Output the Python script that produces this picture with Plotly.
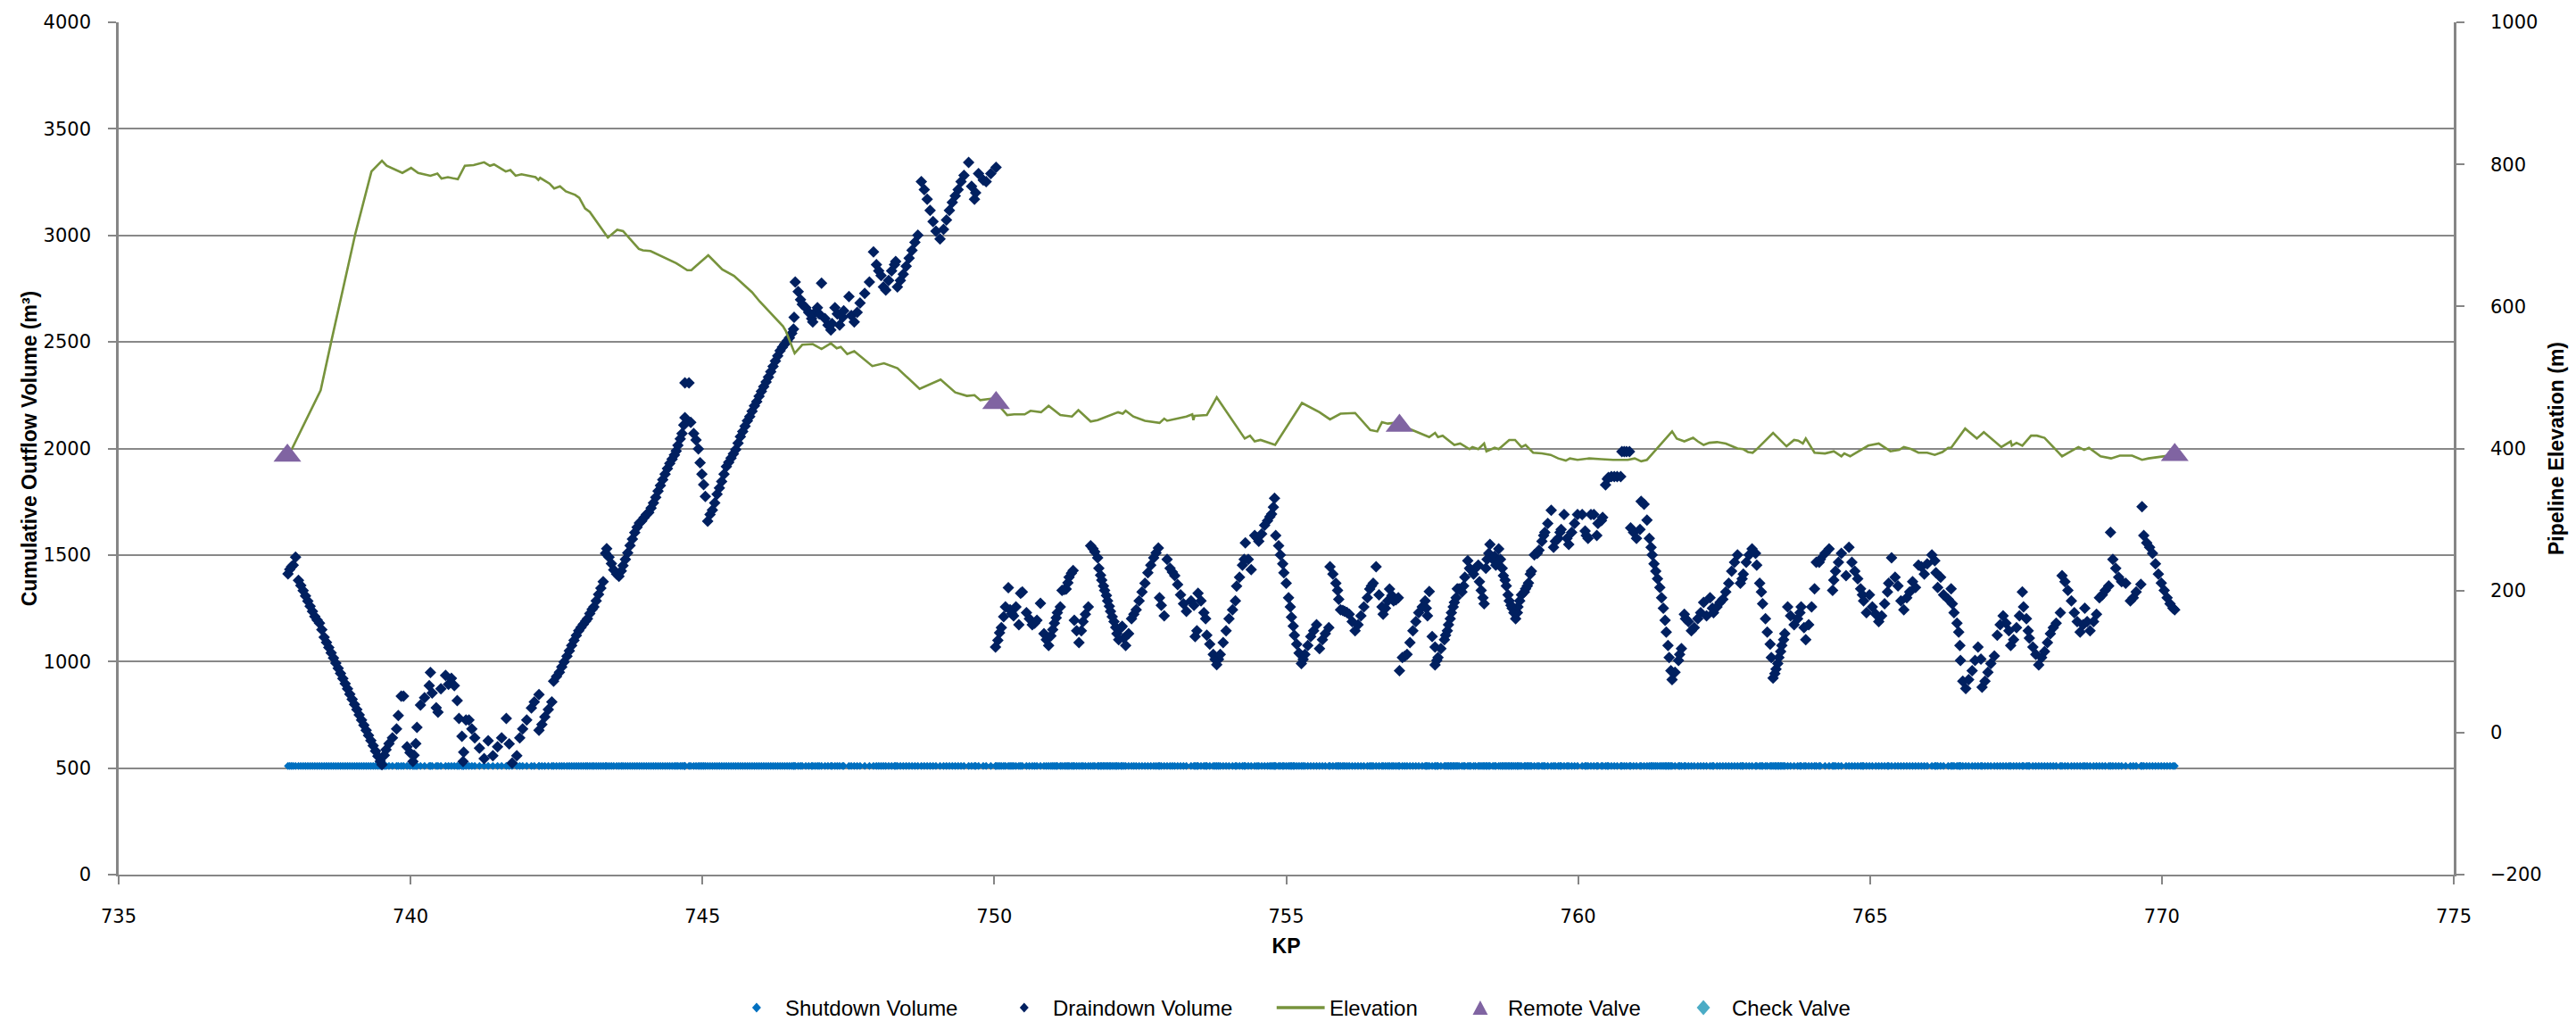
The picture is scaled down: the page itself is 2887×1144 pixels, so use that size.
import plotly.graph_objects as go

# ---- Draindown volume (m3) vs KP, section upstream of the KP 750 valve ----
drain_kp_a = [
    737.90, 737.93, 737.96, 737.99, 738.03,
    738.08, 738.12, 738.16, 738.20, 738.24, 738.28, 738.32, 738.36, 738.40, 738.44,
    738.48, 738.52, 738.56, 738.60, 738.64, 738.68, 738.72, 738.76, 738.80, 738.84,
    738.88, 738.92, 738.96, 739.00, 739.04, 739.08, 739.12, 739.16, 739.20, 739.24,
    739.28, 739.32, 739.36, 739.40, 739.44, 739.48, 739.51,
    739.55, 739.58, 739.63, 739.69, 739.76, 739.79, 739.84, 739.88, 739.94, 739.99,
    740.04, 740.06, 740.09, 740.11, 740.17, 740.24, 740.32, 740.34, 740.37, 740.44,
    740.47, 740.52, 740.60, 740.65, 740.70, 740.75, 740.80, 740.83, 740.88, 740.90,
    740.91, 740.95, 741.00, 741.05, 741.10, 741.18, 741.26, 741.33, 741.41, 741.49,
    741.56, 741.64, 741.69, 741.74, 741.82, 741.87, 741.92, 741.99, 742.07, 742.12,
    742.20, 742.20, 742.25, 742.30, 742.36, 742.42, 742.45, 742.50, 742.55, 742.59,
    742.63, 742.68, 742.72, 742.76, 742.80, 742.84, 742.88, 742.92, 742.96, 743.00,
    743.03, 743.07, 743.11, 743.14, 743.18, 743.22, 743.26, 743.30, 743.34, 743.36,
    743.40, 743.44, 743.48, 743.53, 743.57, 743.61, 743.64, 743.68, 743.72, 743.76,
    743.80, 743.84, 743.88, 743.92, 743.96, 744.00, 744.04, 744.08, 744.12, 744.16,
    744.20, 744.24, 744.28, 744.32, 744.36, 744.40, 744.44, 744.48, 744.52, 744.55,
    744.58, 744.62, 744.65, 744.68, 744.70, 744.70, 744.77, 744.80, 744.85, 744.89,
    744.93, 744.96, 744.99, 745.02, 745.05, 745.09, 745.13, 745.17, 745.21, 745.25,
    745.29, 745.33, 745.37, 745.41, 745.45, 745.49, 745.53, 745.57, 745.61, 745.65,
    745.69, 745.73, 745.77, 745.81, 745.85, 745.89, 745.93, 745.97, 746.01, 746.05,
    746.09, 746.13, 746.17, 746.21, 746.25, 746.29, 746.33, 746.37, 746.41, 746.45,
    746.49, 746.53, 746.56, 746.57, 746.59, 746.64, 746.68, 746.71, 746.77, 746.82,
    746.87, 746.89, 746.93, 746.97, 747.00, 747.04, 747.10, 747.15, 747.20, 747.22,
    747.27, 747.31, 747.35, 747.40, 747.42, 747.51, 747.55, 747.60, 747.65, 747.70,
    747.78, 747.86, 747.93, 747.98, 748.02, 748.06, 748.10, 748.14, 748.19, 748.24,
    748.29, 748.31, 748.34, 748.39, 748.44, 748.49, 748.54, 748.59, 748.64, 748.69,
    748.75, 748.80, 748.85, 748.90, 748.95, 749.00, 749.07, 749.13, 749.18, 749.23,
    749.28, 749.33, 749.38, 749.43, 749.48, 749.56, 749.61, 749.66, 749.68, 749.73,
    749.81, 749.86, 749.94, 750.03,
]
drain_m3_a = [
    1412, 1432, 1445, 1452, 1490,
    1381, 1357, 1333, 1308, 1284, 1260, 1236, 1211, 1195, 1180,
    1150, 1114, 1090, 1066, 1041, 1017, 993, 969, 944, 920,
    896, 872, 847, 823, 799, 775, 750, 726, 702, 678,
    653, 629, 605, 580, 556, 532, 516,
    560, 586, 615, 642, 684, 747, 838, 838, 600, 573,
    531, 560, 615, 691, 796, 830, 887, 949, 852, 783,
    762, 872, 935, 893, 921, 887, 817, 733, 649, 531,
    575, 726, 726, 684, 642, 594, 545, 628, 558, 600,
    642, 733, 614, 524, 558, 642, 684, 726, 782, 810,
    845, 677, 705, 740, 775, 810, 908, 930, 950, 975,
    998, 1025, 1050, 1075, 1100, 1122, 1145, 1160, 1175, 1190,
    1201, 1225, 1245, 1257, 1285, 1315, 1345, 1375, 1508, 1530,
    1490, 1460, 1430, 1410, 1400, 1425, 1450, 1480, 1510, 1545,
    1575, 1605, 1630, 1650, 1660, 1675, 1690, 1700, 1720, 1745,
    1771, 1800, 1826, 1853, 1880, 1906, 1930, 1950, 1970, 1988,
    2015, 2045, 2070, 2110, 2145, 2308, 2308, 2123, 2070, 2040,
    1998, 1933, 1880, 1830, 1775, 1659, 1690, 1711, 1745, 1785,
    1815, 1845, 1880, 1915, 1935, 1955, 1975, 1995, 2025, 2055,
    2080, 2105, 2130, 2150, 2175, 2200, 2220, 2245, 2268, 2290,
    2312, 2335, 2360, 2385, 2410, 2435, 2459, 2475, 2490, 2505,
    2519, 2540, 2560, 2616, 2781, 2736, 2698, 2676, 2661, 2639,
    2609, 2594, 2639, 2661, 2631, 2776, 2609, 2579, 2556, 2586,
    2661, 2631, 2579, 2616, 2646, 2713, 2624, 2594, 2639, 2683,
    2728, 2781, 2923, 2863, 2833, 2811, 2758, 2743, 2788, 2833,
    2863, 2878, 2758, 2788, 2818, 2855, 2893, 2930, 2968, 3001,
    3252, 3215, 3170, 3117, 3065, 3020, 2983, 3028, 3072, 3117,
    3155, 3185, 3215, 3252, 3282, 3342, 3230, 3170, 3200, 3290,
    3260, 3252, 3290, 3319,
]

# ---- Draindown volume (m3), section downstream of the KP 750 valve ----
drain_kp_b = [
    750.02, 750.06, 750.09, 750.12, 750.16, 750.19, 750.24, 750.27, 750.30, 750.33,
    750.37, 750.42, 750.45, 750.48, 750.55, 750.60, 750.65, 750.69, 750.73, 750.79,
    750.85, 750.89, 750.93, 750.97, 751.00, 751.03, 751.06, 751.08, 751.13, 751.16,
    751.20, 751.23, 751.26, 751.28, 751.32, 751.35, 751.37, 751.41, 751.45, 751.49,
    751.52, 751.56, 751.61, 751.65, 751.69, 751.72, 751.77, 751.79, 751.82, 751.84,
    751.87, 751.89, 751.92, 751.94, 751.97, 751.99, 752.02, 752.05, 752.08, 752.10,
    752.13, 752.17, 752.19, 752.22, 752.25, 752.30, 752.35, 752.39, 752.43, 752.48,
    752.53, 752.58, 752.63, 752.68, 752.73, 752.77, 752.81, 752.83, 752.86, 752.91,
    752.96, 753.01, 753.05, 753.09, 753.14, 753.19, 753.24, 753.29, 753.37, 753.42,
    753.44, 753.47, 753.49, 753.54, 753.59, 753.62, 753.64, 753.69, 753.75, 753.78,
    753.81, 753.84, 753.87, 753.92, 753.97, 754.02, 754.08, 754.13, 754.15, 754.20,
    754.25, 754.28, 754.30, 754.35, 754.40, 754.46, 754.50, 754.53, 754.58, 754.63,
    754.68, 754.72, 754.75, 754.78, 754.80, 754.82, 754.87, 754.90, 754.94, 754.96,
    755.00, 755.04, 755.07, 755.09, 755.12, 755.14, 755.18, 755.22, 755.26, 755.29,
    755.32, 755.37, 755.42, 755.47, 755.52, 755.57, 755.62, 755.67, 755.73, 755.75,
    755.80, 755.85, 755.88, 755.90, 755.93, 755.97, 756.00, 756.04, 756.08, 756.13,
    756.18, 756.23, 756.28, 756.33, 756.39, 756.43, 756.46, 756.49, 756.54, 756.59,
    756.64, 756.66, 756.70, 756.74, 756.77, 756.81, 756.84, 756.88, 756.92, 756.94,
    756.99, 757.03, 757.07, 757.12, 757.17, 757.22, 757.27, 757.33, 757.38, 757.40,
    757.42, 757.45, 757.50, 757.55, 757.55, 757.58, 757.60, 757.65, 757.71, 757.73,
    757.76, 757.78, 757.81, 757.83, 757.86, 757.88, 757.91, 757.93, 757.96, 758.01,
    758.04, 758.06, 758.11, 758.14, 758.16, 758.21, 758.24, 758.29, 758.31, 758.34,
    758.37, 758.39, 758.42, 758.44, 758.47, 758.49, 758.54, 758.57, 758.59, 758.64,
    758.67, 758.70, 758.72, 758.75, 758.77, 758.80, 758.82, 758.85, 758.87, 758.90,
    758.93, 758.96, 758.97, 759.00, 759.03, 759.08, 759.10, 759.13, 759.15, 759.18,
    759.20, 759.25, 759.30, 759.33, 759.38, 759.41, 759.43, 759.48, 759.54, 759.58,
    759.61, 759.66, 759.69, 759.71, 759.76, 759.81, 759.84, 759.89, 759.94, 759.99,
    760.07, 760.12, 760.14, 760.17, 760.22, 760.27, 760.32, 760.34, 760.40, 760.42,
    760.47, 760.50, 760.52, 760.57, 760.62, 760.67, 760.73, 760.75, 760.79, 760.83,
    760.88, 760.90, 760.95, 761.00, 761.06, 761.08, 761.13, 761.18, 761.22, 761.25,
    761.27, 761.30, 761.33, 761.36, 761.40, 761.43, 761.46, 761.49, 761.51, 761.54,
    761.56, 761.59, 761.61, 761.66, 761.72, 761.74, 761.77, 761.82, 761.84, 761.89,
    761.94, 761.99, 762.05, 762.10, 762.15, 762.20, 762.26, 762.30, 762.32, 762.38,
    762.43, 762.48, 762.53, 762.58, 762.63, 762.68, 762.73, 762.78, 762.81, 762.83,
    762.88, 762.93, 762.98, 763.04, 763.06, 763.11, 763.14, 763.16, 763.21, 763.24,
    763.29, 763.31, 763.34, 763.37, 763.39, 763.42, 763.44, 763.47, 763.49, 763.52,
    763.54, 763.59, 763.64, 763.70, 763.76, 763.80, 763.82, 763.87, 763.90, 763.95,
    764.00, 764.05, 764.08, 764.13, 764.15, 764.23, 764.30, 764.36, 764.38, 764.41,
    764.46, 764.51, 764.59, 764.64, 764.69, 764.74, 764.79, 764.84, 764.87, 764.89,
    764.94, 764.99, 765.04, 765.10, 765.15, 765.20, 765.25, 765.30, 765.32, 765.37,
    765.43, 765.48, 765.53, 765.58, 765.63, 765.68, 765.73, 765.78, 765.83, 765.88,
    765.93, 765.98, 766.06, 766.11, 766.13, 766.16, 766.21, 766.26, 766.34, 766.39,
    766.41, 766.44, 766.49, 766.52, 766.54, 766.55, 766.59, 766.64, 766.69, 766.75,
    766.80, 766.85, 766.90, 766.92, 766.97, 767.02, 767.07, 767.13, 767.18, 767.23,
    767.28, 767.33, 767.38, 767.41, 767.46, 767.51, 767.56, 767.61, 767.63, 767.68,
    767.71, 767.73, 767.79, 767.84, 767.89, 767.94, 767.99, 768.04, 768.09, 768.14,
    768.19, 768.26, 768.29, 768.34, 768.39, 768.45, 768.50, 768.55, 768.60, 768.65,
    768.68, 768.72, 768.77, 768.83, 768.88, 768.93, 768.98, 769.03, 769.09, 769.12,
    769.16, 769.21, 769.26, 769.31, 769.38, 769.46, 769.51, 769.56, 769.64, 769.66,
    769.69, 769.74, 769.79, 769.84, 769.89, 769.94, 769.99, 770.04, 770.09, 770.14,
    770.19, 770.22,
]
drain_m3_b = [
    1068, 1100, 1135, 1159, 1210, 1257, 1347, 1243, 1225, 1215,
    1257, 1173, 1320, 1327, 1229, 1201, 1173, 1180, 1194, 1273,
    1131, 1103, 1075, 1120, 1150, 1180, 1205, 1229, 1257, 1334,
    1338, 1340, 1370, 1396, 1415, 1427, 1194, 1145, 1089, 1145,
    1187, 1222, 1257, 1543, 1530, 1515, 1487, 1438, 1405, 1382,
    1355, 1334, 1310, 1285, 1260, 1236, 1210, 1187, 1160, 1131,
    1103, 1159, 1165, 1110, 1075, 1131, 1201, 1222, 1243, 1285,
    1327, 1368, 1417, 1452, 1487, 1510, 1533, 1299, 1264, 1215,
    1480, 1438, 1420, 1403, 1361, 1313, 1271, 1236, 1285, 1264,
    1117, 1145, 1320, 1285, 1229, 1201, 1124, 1082, 1033, 1010,
    985, 1010, 1033, 1089, 1145, 1201, 1243, 1285, 1354, 1396,
    1452, 1480, 1557, 1480, 1431, 1592, 1580, 1564, 1599, 1640,
    1661, 1680, 1692, 1725, 1766, 1592, 1543, 1501, 1459, 1417,
    1368, 1299, 1257, 1208, 1166, 1124, 1082, 1040, 991, 1010,
    1033, 1075, 1117, 1145, 1173, 1061, 1103, 1131, 1159, 1445,
    1410, 1368, 1334, 1292, 1243, 1240, 1236, 1230, 1222, 1187,
    1145, 1173, 1215, 1257, 1299, 1340, 1355, 1368, 1445, 1313,
    1257, 1222, 1250, 1285, 1340, 1310, 1285, 1290, 1299, 957,
    1019, 1025, 1033, 1089, 1145, 1187, 1229, 1257, 1285, 1250,
    1215, 1329, 1117, 1068, 984, 1005, 1019, 1061, 1103, 1124,
    1145, 1173, 1201, 1229, 1257, 1278, 1299, 1341, 1341, 1327,
    1355, 1396, 1473, 1438, 1431, 1410, 1438, 1452, 1375, 1334,
    1299, 1271, 1438, 1480, 1508, 1550, 1480, 1494, 1452, 1529,
    1480, 1438, 1403, 1382, 1355, 1313, 1285, 1264, 1250, 1229,
    1201, 1229, 1257, 1285, 1313, 1327, 1341, 1355, 1369, 1410,
    1424, 1501, 1508, 1522, 1564, 1592, 1606, 1648, 1710, 1536,
    1564, 1578, 1606, 1620, 1690, 1578, 1550, 1606, 1648, 1690,
    1690, 1613, 1592, 1578, 1690, 1690, 1592, 1648, 1662, 1676,
    1829, 1857, 1864, 1868, 1868, 1868, 1868, 1985, 1985, 1985,
    1985, 1627, 1606, 1578, 1620, 1752, 1738, 1664, 1578, 1536,
    1501, 1459, 1424, 1389, 1348, 1299, 1250, 1194, 1138, 1075,
    1019, 957, 915, 950, 1005, 1033, 1061, 1222, 1201, 1187,
    1145, 1159, 1201, 1229, 1278, 1215, 1299, 1250, 1229, 1257,
    1278, 1292, 1327, 1368, 1424, 1466, 1501, 1368, 1389, 1410,
    1466, 1501, 1529, 1508, 1452, 1368, 1327, 1271, 1201, 1138,
    1082, 1019, 922, 943, 964, 991, 1019, 1047, 1075, 1103,
    1131, 1257, 1215, 1173, 1201, 1229, 1257, 1159, 1103, 1173,
    1257, 1341, 1466, 1466, 1480, 1508, 1529, 1334, 1382, 1424,
    1466, 1508, 1403, 1536, 1466, 1424, 1389, 1341, 1313, 1285,
    1229, 1313, 1257, 1222, 1187, 1215, 1271, 1327, 1368, 1487,
    1396, 1355, 1285, 1243, 1299, 1327, 1375, 1348, 1452, 1445,
    1410, 1459, 1501, 1473, 1417, 1348, 1396, 1313, 1292, 1341,
    1271, 1229, 1180, 1138, 1075, 1005, 908, 873, 915, 957,
    1005, 1068, 1012, 880, 908, 950, 991, 1026, 1124, 1173,
    1215, 1180, 1145, 1075, 1103, 1159, 1215, 1327, 1257, 1201,
    1145, 1110, 1068, 1033, 984, 1019, 1047, 1089, 1131, 1159,
    1180, 1229, 1403, 1375, 1334, 1285, 1229, 1187, 1138, 1173,
    1250, 1187, 1145, 1187, 1222, 1299, 1313, 1334, 1355, 1606,
    1480, 1438, 1396, 1375, 1368, 1285, 1299, 1327, 1362, 1727,
    1592, 1557, 1536, 1508, 1459, 1410, 1369, 1334, 1299, 1271,
    1250, 1243,
]

# ---- Shutdown volume (m3): constant along the whole segment ----
shutdown_kp = drain_kp_a + drain_kp_b
shutdown_m3 = [510 for _ in shutdown_kp]

# ---- Pipeline elevation profile (m) ----
elev_kp = [
    737.90, 738.43, 738.46, 738.64, 739.05, 739.33, 739.51, 739.59, 739.86, 740.01,
    740.13, 740.34, 740.46, 740.53, 740.64, 740.81, 740.93, 741.08, 741.26, 741.36,
    741.43, 741.63, 741.71, 741.80, 741.90, 742.14, 742.19, 742.22, 742.38, 742.46,
    742.56, 742.66, 742.82, 742.89, 742.99, 743.07, 743.38, 743.54, 743.64, 743.91,
    743.98, 744.11, 744.55, 744.74, 744.81, 744.89, 745.10, 745.34, 745.47, 745.54,
    745.85, 745.98, 746.38, 746.43, 746.58, 746.71, 746.89, 747.04, 747.20, 747.30,
    747.37, 747.48, 747.60, 747.91, 748.11, 748.34, 748.72, 749.08, 749.33, 749.53,
    749.66, 749.76, 749.94, 750.03, 750.22, 750.34, 750.52, 750.62, 750.80, 750.93,
    751.13, 751.33, 751.44, 751.65, 751.77, 752.12, 752.20, 752.25, 752.38, 752.58,
    752.83, 752.91, 752.96, 753.09, 753.29, 753.39, 753.41, 753.43, 753.64, 753.81,
    754.29, 754.38, 754.46, 754.56, 754.81, 755.27, 755.52, 755.57, 755.75, 755.93,
    756.18, 756.44, 756.56, 756.64, 756.74, 756.84, 757.10, 757.37, 757.45, 757.55,
    757.60, 757.68, 757.88, 757.98, 758.14, 758.19, 758.29, 758.39, 758.43, 758.57,
    758.64, 758.82, 758.92, 759.03, 759.10, 759.23, 759.38, 759.53, 759.66, 759.79,
    759.86, 759.99, 760.19, 760.40, 760.60, 760.85, 760.97, 761.08, 761.18, 761.61,
    761.69, 761.82, 761.97, 762.05, 762.15, 762.25, 762.38, 762.53, 762.73, 762.83,
    762.91, 762.99, 763.06, 763.34, 763.57, 763.70, 763.77, 763.85, 763.90, 764.05,
    764.23, 764.38, 764.51, 764.56, 764.66, 764.97, 765.15, 765.35, 765.50, 765.58,
    765.71, 765.83, 765.98, 766.11, 766.24, 766.34, 766.39, 766.63, 766.83, 766.95,
    767.25, 767.41, 767.43, 767.51, 767.61, 767.76, 767.86, 767.99, 768.29, 768.57,
    768.67, 768.75, 768.95, 769.13, 769.28, 769.49, 769.66, 769.77, 770.10, 770.22,
]
elev_m = [
    388, 479, 482, 550, 701, 790, 805, 798, 788, 795,
    788, 784, 787, 780, 782, 779, 798, 799, 803, 798,
    800, 790, 792, 784, 786, 782, 778, 781, 773, 766,
    769, 762, 757, 753, 738, 733, 697, 708, 706, 681,
    679, 678, 661, 651, 651, 657, 672, 652, 646, 643,
    620, 607, 572, 565, 534, 546, 547, 540, 548, 541,
    543, 533, 537, 516, 520, 513, 484, 497, 479, 474,
    475, 468, 470, 465, 447, 448, 448, 453, 451, 460,
    447, 445, 454, 438, 440, 451, 449, 453, 445, 439,
    436, 442, 439, 441, 445, 448, 440, 446, 447, 472,
    414, 418, 410, 412, 405, 464, 453, 451, 441, 449,
    450, 426, 424, 437, 435, 436, 428, 418, 416, 422,
    416, 418, 405, 407, 399, 402, 399, 407, 396, 401,
    399, 412, 412, 402, 405, 394, 393, 391, 386, 383,
    386, 384, 386, 385, 384, 384, 386, 382, 384, 424,
    414, 410, 415, 410, 405, 408, 409, 407, 400, 399,
    395, 394, 399, 422, 403, 412, 411, 407, 414, 394,
    393, 396, 389, 393, 389, 404, 407, 396, 398, 402,
    399, 394, 394, 391, 395, 401, 401, 428, 414, 423,
    402, 410, 404, 408, 404, 418, 418, 415, 389, 402,
    398, 401, 389, 386, 390, 390, 384, 386, 390, 391,
]

# ---- Remote valve locations (KP, elevation m) ----
valve_kp = [737.89, 750.03, 756.94, 770.22]
valve_m = [390, 464, 432, 391]

# ---- Legend entries ----
legend_names = ["Shutdown Volume", "Draindown Volume", "Elevation", "Remote Valve", "Check Valve"]

SHUTDOWN_BLUE = "#0070C0"
DRAIN_NAVY = "#002060"
ELEV_GREEN = "#77933C"
VALVE_PURPLE = "#8064A2"
CHECK_CYAN = "#4BACC6"

AXIS_GREY = "#868686"
GRID_GREY = "#888888"
TICK_FONT = dict(family="DejaVu Sans", size=21, color="#000000")
TITLE_FONT = dict(family="Liberation Sans", size=23, color="#000000", weight="bold")

W, H = 2887, 1144
M_L, M_R, M_T, M_B = 132.5, 128, 25, 164
PLOT_W = W - M_L - M_R
PLOT_H = H - M_T - M_B


def px_x(px):
    return (px - M_L) / PLOT_W


def px_y(py):
    return (H - M_B - py) / PLOT_H


fig = go.Figure()

fig.add_trace(go.Scatter(
    x=shutdown_kp, y=shutdown_m3, name=legend_names[0], mode="markers",
    marker=dict(symbol="diamond", size=7, color=SHUTDOWN_BLUE, line=dict(width=0)),
))
fig.add_trace(go.Scatter(
    x=drain_kp_a + drain_kp_b, y=drain_m3_a + drain_m3_b, name=legend_names[1],
    mode="markers",
    marker=dict(symbol="diamond", size=10, color=DRAIN_NAVY, line=dict(width=0)),
))
fig.add_trace(go.Scatter(
    x=elev_kp, y=elev_m, name=legend_names[2], mode="lines", yaxis="y2",
    line=dict(color=ELEV_GREEN, width=2.6),
))
fig.add_trace(go.Scatter(
    x=valve_kp, y=valve_m, name=legend_names[3], mode="markers", yaxis="y2",
    marker=dict(symbol="triangle-up", size=27, color=VALVE_PURPLE, line=dict(width=0)),
))
fig.add_trace(go.Scatter(
    x=[None], y=[None], name=legend_names[4], mode="markers", yaxis="y2",
    marker=dict(symbol="diamond", size=13, color=CHECK_CYAN, line=dict(width=0)),
))

# ---- Legend row below the x-axis title, drawn as shapes + text ----
LEG_Y = 1129
shapes = []


def diamond(cx, cy, half_w, half_h, color):
    path = "M {:.5f},{:.5f} L {:.5f},{:.5f} L {:.5f},{:.5f} L {:.5f},{:.5f} Z".format(
        px_x(cx), px_y(cy - half_h), px_x(cx + half_w), px_y(cy),
        px_x(cx), px_y(cy + half_h), px_x(cx - half_w), px_y(cy))
    return dict(type="path", xref="paper", yref="paper", path=path,
                fillcolor=color, line=dict(width=0), layer="above")


shapes.append(diamond(850, LEG_Y, 5, 5.5, SHUTDOWN_BLUE))
shapes.append(diamond(1151, LEG_Y, 5, 5.5, DRAIN_NAVY))
shapes.append(dict(type="line", xref="paper", yref="paper",
                   x0=px_x(1435), x1=px_x(1489), y0=px_y(LEG_Y), y1=px_y(LEG_Y),
                   line=dict(color=ELEV_GREEN, width=3.5), layer="above"))
tri = "M {:.5f},{:.5f} L {:.5f},{:.5f} L {:.5f},{:.5f} Z".format(
    px_x(1664 - 8.5), px_y(LEG_Y + 8), px_x(1664 + 8.5), px_y(LEG_Y + 8),
    px_x(1664), px_y(LEG_Y - 8))
shapes.append(dict(type="path", xref="paper", yref="paper", path=tri,
                   fillcolor=VALVE_PURPLE, line=dict(width=0), layer="above"))
shapes.append(diamond(1915, LEG_Y, 7.5, 8.5, CHECK_CYAN))

legend_text_x = [880, 1181, 1492, 1693, 1945]
annotations = []
for name, tx in zip(legend_names, legend_text_x):
    annotations.append(dict(
        text=name, xref="paper", yref="paper", x=px_x(tx), y=px_y(LEG_Y),
        xanchor="left", yanchor="middle", showarrow=False,
        font=dict(family="Liberation Sans", size=24, color="#000000"),
    ))

fig.update_layout(
    width=W, height=H,
    margin=dict(l=M_L, r=M_R, t=M_T, b=M_B, pad=0),
    paper_bgcolor="white", plot_bgcolor="white",
    showlegend=False,
    shapes=shapes,
    annotations=annotations,
    xaxis=dict(
        range=[735, 775], tick0=735, dtick=5, showgrid=False, zeroline=False,
        showline=True, linecolor=AXIS_GREY, linewidth=1.6,
        ticks="outside", ticklen=9, tickwidth=1.5, tickcolor=AXIS_GREY,
        tickfont=TICK_FONT, ticklabelstandoff=18,
        title=dict(text="KP", font=TITLE_FONT, standoff=14),
    ),
    yaxis=dict(
        range=[0, 4000], tick0=0, dtick=500, showgrid=True, gridcolor=GRID_GREY,
        gridwidth=1.6, zeroline=False, showline=True, linecolor=AXIS_GREY, linewidth=2.5,
        ticks="outside", ticklen=9, tickwidth=1.5, tickcolor=AXIS_GREY,
        tickfont=TICK_FONT, ticklabelstandoff=15,
        title=dict(text="Cumulative Outflow Volume (m³)", font=TITLE_FONT, standoff=1),
    ),
    yaxis2=dict(
        range=[-200, 1000], tick0=-200, dtick=200, overlaying="y", side="right",
        showgrid=False, zeroline=False, showline=True, linecolor=AXIS_GREY, linewidth=2.5,
        ticks="outside", ticklen=9, tickwidth=1.5, tickcolor=AXIS_GREY,
        tickfont=TICK_FONT, ticklabelstandoff=25,
        title=dict(text="Pipeline Elevation (m)", font=TITLE_FONT, standoff=10),
    ),
)

fig.write_html("out.html", config={"displayModeBar": False})
